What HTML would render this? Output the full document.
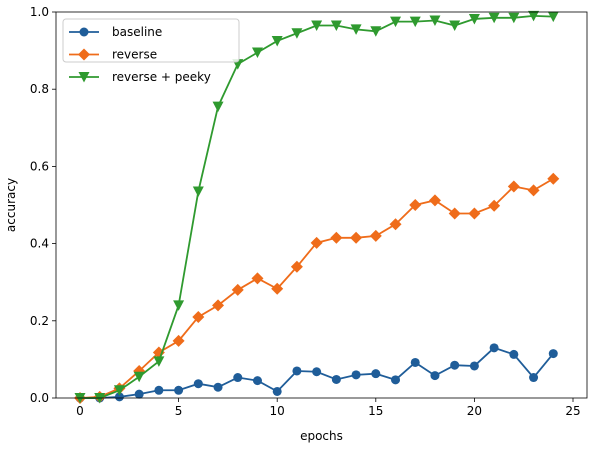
<!DOCTYPE html>
<html><head><meta charset="utf-8"><style>
body{margin:0;background:#fff;}
svg text{font-family:"DejaVu Sans","Liberation Sans",sans-serif;font-size:12px;fill:#000;}
</style></head><body>
<svg id="chart" width="593" height="450" xmlns="http://www.w3.org/2000/svg"></svg>
<script>
const epochs=[0,1,2,3,4,5,6,7,8,9,10,11,12,13,14,15,16,17,18,19,20,21,22,23,24];
const baseline=[0,0,0.003,0.01,0.02,0.02,0.037,0.028,0.053,0.045,0.017,0.07,0.068,0.048,0.06,0.063,0.047,0.092,0.058,0.085,0.083,0.13,0.113,0.053,0.115];
const reverse=[0,0.003,0.025,0.07,0.118,0.148,0.21,0.24,0.28,0.31,0.283,0.34,0.402,0.415,0.415,0.42,0.45,0.5,0.512,0.478,0.478,0.498,0.548,0.538,0.568];
const peeky=[0,0,0.02,0.055,0.095,0.24,0.535,0.755,0.865,0.895,0.925,0.945,0.965,0.965,0.955,0.95,0.975,0.975,0.978,0.965,0.982,0.985,0.985,0.99,0.988];
const xTicks=[0,5,10,15,20,25];
const yTicks=[0,0.2,0.4,0.6,0.8,1.0];
const yTickLabels=["0.0","0.2","0.4","0.6","0.8","1.0"];

const L=56,R=587,T=12,B=398;
const x=v=>80+v*19.72;
const y=v=>B-v*(B-T);
const NS="http://www.w3.org/2000/svg";
const svg=document.getElementById('chart');
function mk(tag,attrs,parent){const e=document.createElementNS(NS,tag);for(const k in attrs)e.setAttribute(k,attrs[k]);(parent||svg).appendChild(e);return e;}

xTicks.forEach(t=>{
  const g=mk('g',{});
  
  
  mk('line',{x1:x(t),x2:x(t),y1:B,y2:B+4,stroke:'#000','stroke-width':0.8},g);
  const tx=mk('text',{x:x(t),y:B+17,'text-anchor':'middle'},g);tx.textContent=t;
});
yTicks.forEach((t,i)=>{
  const g=mk('g',{});
  
  
  mk('line',{x1:L-4,x2:L,y1:y(t),y2:y(t),stroke:'#000','stroke-width':0.8},g);
  const tx=mk('text',{x:L-7,y:y(t)+4,'text-anchor':'end'},g);tx.textContent=yTickLabels[i];
});
const xl=mk('text',{x:(L+R)/2,y:440,'text-anchor':'middle'});xl.textContent='epochs';


const yl=mk('text',{x:15,y:(T+B)/2,'text-anchor':'middle',transform:`rotate(-90 15 ${(T+B)/2})`});yl.textContent='accuracy';



function marker(type,cx,cy,color,g){
  if(type==='o')return mk('circle',{cx,cy,r:4.5,fill:color},g);
  if(type==='D')return mk('polygon',{points:`${cx},${cy-6} ${cx+6},${cy} ${cx},${cy+6} ${cx-6},${cy}`,fill:color},g);
  return mk('polygon',{points:`${cx-5.5},${cy-5} ${cx+5.5},${cy-5} ${cx},${cy+5.5}`,fill:color},g);
}
const series=[[baseline,'#1f5d99','o','baseline'],[reverse,'#ef6c1a','D','reverse'],[peeky,'#2f9a2f','v','peeky']];
series.forEach(([vals,c,m,n])=>{
  const g=mk('g',{});
  
  
  mk('polyline',{points:vals.map((v,i)=>x(epochs[i])+','+y(v)).join(' '),fill:'none',stroke:c,'stroke-width':1.8},g);
  vals.forEach((v,i)=>{const p=marker(m,x(epochs[i]),y(v),c,g);
    
    });
});
const frame=mk('rect',{x:L,y:T,width:R-L,height:B-T,fill:'none',stroke:'#000','stroke-width':0.8});



const lg=mk('g',{});


mk('rect',{x:63,y:19,width:176,height:43,rx:3,fill:'#fff','fill-opacity':0.85,stroke:'#ccc'},lg);
const labels=['baseline','reverse','reverse + peeky'];
series.forEach(([v,c,m],i)=>{
  const yy=33+i*22.5;
  const e=mk('g',{},lg);
  
  
  mk('line',{x1:69,x2:99,y1:yy-1,y2:yy-1,stroke:c,'stroke-width':1.8},e);
  marker(m,84,yy-1,c,e);
  const t=mk('text',{x:112,y:yy+3},e);t.textContent=labels[i];
});
</script>
</body></html>
